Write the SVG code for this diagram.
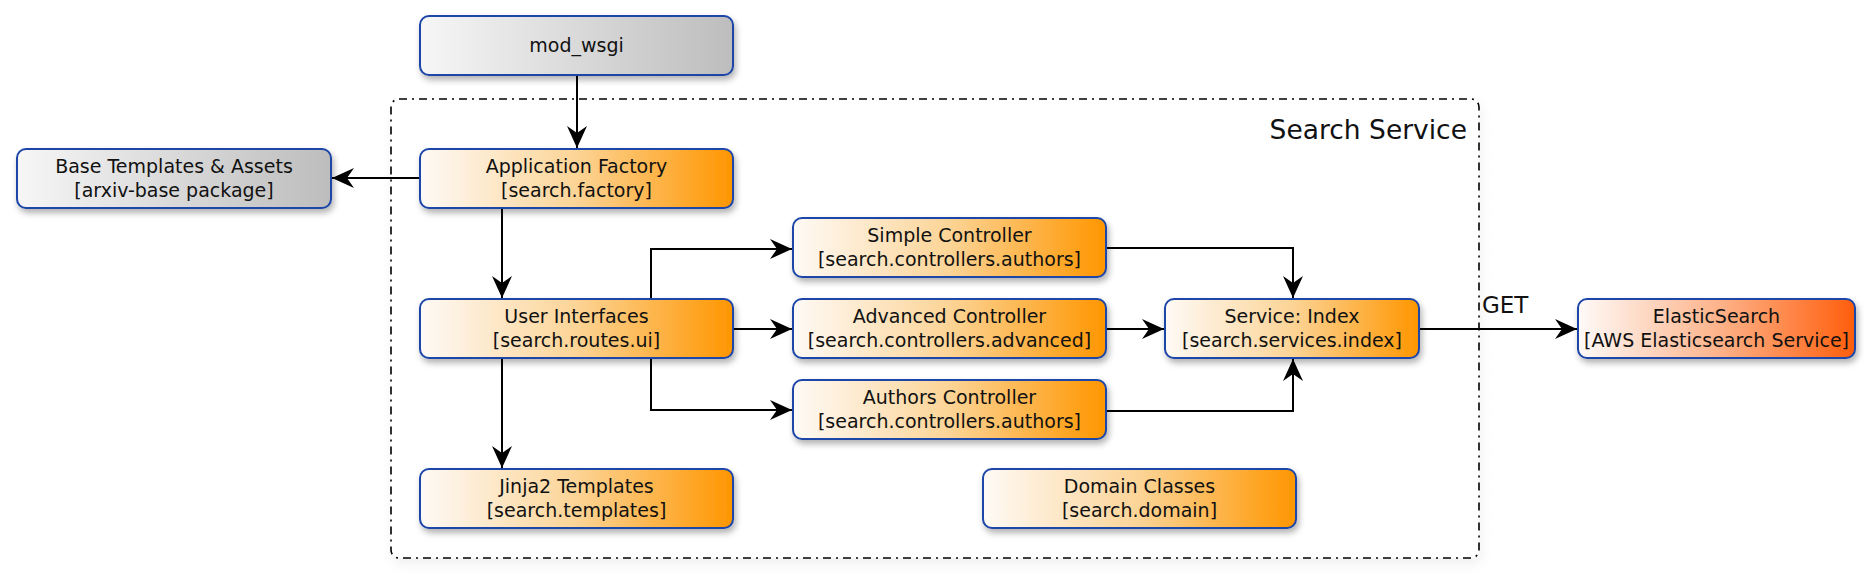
<svg xmlns="http://www.w3.org/2000/svg" width="1872" height="576" viewBox="0 0 1872 576">
<defs>
  <linearGradient id="gOrange" x1="0" y1="0" x2="1" y2="0">
    <stop offset="0" stop-color="#FEFAF6"/>
    <stop offset="0.5" stop-color="#FCD496"/>
    <stop offset="1" stop-color="#FF9600"/>
  </linearGradient>
  <linearGradient id="gGray" x1="0" y1="0" x2="1" y2="0">
    <stop offset="0" stop-color="#F6F6F6"/>
    <stop offset="1" stop-color="#BDBDBD"/>
  </linearGradient>
  <linearGradient id="gRed" x1="0" y1="0" x2="1" y2="0">
    <stop offset="0" stop-color="#FEFAF8"/>
    <stop offset="0.5" stop-color="#FDB48C"/>
    <stop offset="1" stop-color="#FF5E0C"/>
  </linearGradient>
  <filter id="shadow" x="-10%" y="-20%" width="120%" height="150%">
    <feDropShadow dx="2" dy="4" stdDeviation="3" flood-color="#000" flood-opacity="0.3"/>
  </filter>
  <filter id="shadowLight" x="-5%" y="-5%" width="110%" height="110%">
    <feDropShadow dx="2" dy="6" stdDeviation="6" flood-color="#000" flood-opacity="0.06"/>
  </filter>
  <marker id="arrow" markerUnits="userSpaceOnUse" markerWidth="24" markerHeight="24" viewBox="-23 -11 24 22" refX="0" refY="0" orient="auto">
    <path d="M0,0 L-22,-10 L-15,0 L-22,10 Z" fill="#000"/>
  </marker>
  <style>
    .box { stroke: #1E46A8; stroke-width: 2; filter: url(#shadow); }
    .orange { fill: url(#gOrange); }
    .gray { fill: url(#gGray); }
    .red { fill: url(#gRed); }
    .lbl { font-family: "DejaVu Sans", "Liberation Sans", sans-serif; font-size: 19px; fill: #111; text-anchor: middle; }
    .conn { fill: none; stroke: #000; stroke-width: 2; marker-end: url(#arrow); }
  </style>
</defs>
<rect width="1872" height="576" fill="#fff"/>

<g id="search-service">
  <rect x="391" y="99" width="1088" height="459" rx="8" ry="8" fill="#fff" stroke="#000" stroke-width="1.6" stroke-dasharray="8,5,2,5" filter="url(#shadowLight)"/>
  <text x="1467" y="139" font-family="DejaVu Sans, Liberation Sans, sans-serif" font-size="26.5" fill="#111" text-anchor="end">Search Service</text>
</g>

<g id="connectors">
  <path class="conn" d="M577,75 L577,148"/>
  <path class="conn" d="M420,178 L332,178"/>
  <path class="conn" d="M502,208 L502,298"/>
  <path class="conn" d="M651,299 L651,249 L792,249"/>
  <path class="conn" d="M733,329 L792,329"/>
  <path class="conn" d="M651,358 L651,410 L792,410"/>
  <path class="conn" d="M502,358 L502,468"/>
  <path class="conn" d="M1106,248 L1293,248 L1293,298"/>
  <path class="conn" d="M1106,329 L1164,329"/>
  <path class="conn" d="M1106,411 L1293,411 L1293,359"/>
  <path class="conn" d="M1419,329 L1577,329"/>
  <text x="1482" y="313" font-family="DejaVu Sans, Liberation Sans, sans-serif" font-size="23" fill="#111">GET</text>
</g>

<g id="mod-wsgi">
  <rect class="box gray" x="420" y="16" width="313" height="59" rx="9"/>
  <text class="lbl" x="576.5" y="52">mod_wsgi</text>
</g>

<g id="base-templates">
  <rect class="box gray" x="17" y="149" width="314" height="59" rx="9"/>
  <text class="lbl" x="174" y="172.5">Base Templates &amp; Assets</text>
  <text class="lbl" x="174" y="196.5">[arxiv-base package]</text>
</g>

<g id="application-factory">
  <rect class="box orange" x="420" y="149" width="313" height="59" rx="9"/>
  <text class="lbl" x="576.5" y="172.5">Application Factory</text>
  <text class="lbl" x="576.5" y="196.5">[search.factory]</text>
</g>

<g id="simple-controller">
  <rect class="box orange" x="793" y="218" width="313" height="59" rx="9"/>
  <text class="lbl" x="949.5" y="241.5">Simple Controller</text>
  <text class="lbl" x="949.5" y="265.5">[search.controllers.authors]</text>
</g>

<g id="user-interfaces">
  <rect class="box orange" x="420" y="299" width="313" height="59" rx="9"/>
  <text class="lbl" x="576.5" y="322.5">User Interfaces</text>
  <text class="lbl" x="576.5" y="346.5">[search.routes.ui]</text>
</g>

<g id="advanced-controller">
  <rect class="box orange" x="793" y="299" width="313" height="59" rx="9"/>
  <text class="lbl" x="949.5" y="322.5">Advanced Controller</text>
  <text class="lbl" x="949.5" y="346.5">[search.controllers.advanced]</text>
</g>

<g id="service-index">
  <rect class="box orange" x="1165" y="299" width="254" height="59" rx="9"/>
  <text class="lbl" x="1292" y="322.5">Service: Index</text>
  <text class="lbl" x="1292" y="346.5">[search.services.index]</text>
</g>

<g id="elasticsearch">
  <rect class="box red" x="1578" y="299" width="277" height="59" rx="9"/>
  <text class="lbl" x="1716.5" y="322.5">ElasticSearch</text>
  <text class="lbl" x="1716.5" y="346.5">[AWS Elasticsearch Service]</text>
</g>

<g id="authors-controller">
  <rect class="box orange" x="793" y="380" width="313" height="59" rx="9"/>
  <text class="lbl" x="949.5" y="403.5">Authors Controller</text>
  <text class="lbl" x="949.5" y="427.5">[search.controllers.authors]</text>
</g>

<g id="jinja2-templates">
  <rect class="box orange" x="420" y="469" width="313" height="59" rx="9"/>
  <text class="lbl" x="576.5" y="492.5">Jinja2 Templates</text>
  <text class="lbl" x="576.5" y="516.5">[search.templates]</text>
</g>

<g id="domain-classes">
  <rect class="box orange" x="983" y="469" width="313" height="59" rx="9"/>
  <text class="lbl" x="1139.5" y="492.5">Domain Classes</text>
  <text class="lbl" x="1139.5" y="516.5">[search.domain]</text>
</g>
</svg>
